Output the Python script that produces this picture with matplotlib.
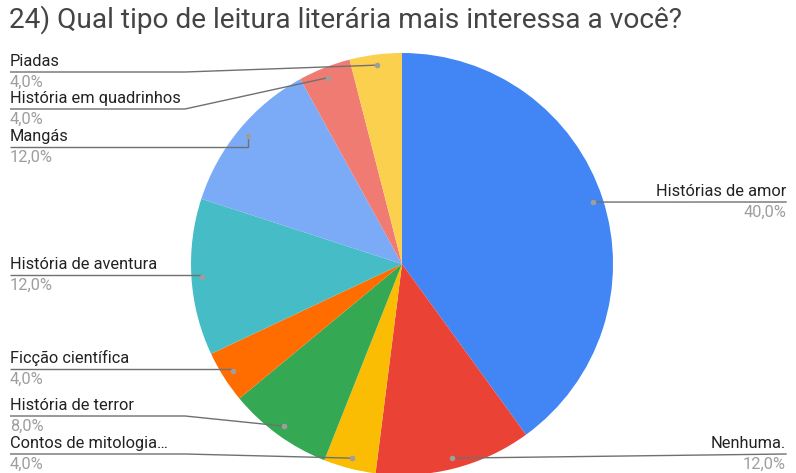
import numpy as np
import matplotlib.pyplot as plt

plt.rcParams['font.family'] = ['Roboto', 'DejaVu Sans']

title = "24) Qual tipo de leitura literária mais interessa a você?"
categories = ["Histórias de amor", "Nenhuma.", "Contos de mitologia…", "História de terror",
              "Ficção científica", "História de aventura", "Mangás",
              "História em quadrinhos", "Piadas"]
values = [40.0, 12.0, 4.0, 8.0, 4.0, 12.0, 12.0, 4.0, 4.0]
colors = ["#4285F4", "#EA4335", "#FBBC04", "#34A853", "#FF6D01",
          "#46BDC6", "#7BAAF7", "#F07B72", "#FCD04F"]

# label layout: line y (pixels from top), side
label_y = [202, 454, 454, 416, 369, 275, 147, 109, 72]
label_side = ["R", "R", "L", "L", "L", "L", "L", "L", "L"]

W, H = 796, 473
cx, cy, r = 402, 264, 211


def Y(p):
    return H - p


fig = plt.figure(figsize=(W / 100, H / 100), dpi=100)
ax = fig.add_axes([0, 0, 1, 1])

ax.pie(values, colors=colors, startangle=90, counterclock=False,
       center=(cx, Y(cy)), radius=r, frame=True,
       wedgeprops=dict(linewidth=0))
ax.set_xlim(0, W)
ax.set_ylim(0, H)
ax.set_aspect('equal')
ax.axis('off')

total = sum(values)
cum = 0
line_c = "#707070"
for name, v, ly, side in zip(categories, values, label_y, label_side):
    mid = (cum + v / 2) / total * 2 * np.pi
    cum += v
    px = cx + 0.95 * r * np.sin(mid)
    py = cy - 0.95 * r * np.cos(mid)
    pct = f"{v:.1f}%".replace('.', ',')
    if side == "L":
        knee = 185 if px > 260 else px
        ax.plot([10, knee, px], [Y(ly), Y(ly), Y(py)], color=line_c, lw=1, solid_capstyle='butt')
        tx, ha = 10, 'left'
    else:
        ax.plot([786, px], [Y(ly), Y(py)], color=line_c, lw=1)
        tx, ha = 786, 'right'
    ax.text(tx, Y(ly) + 3, name, ha=ha, va='bottom', fontsize=11.8, color="#222222")
    ax.text(tx, Y(ly) - 3, pct, ha=ha, va='top', fontsize=11.8, color="#9e9e9e")
    ax.plot([px], [Y(py)], 'o', color="#9e9e9e", ms=4, mec='none')

ax.text(9, Y(20), title, ha='left', va='center', fontsize=20.2, color="#444444")

fig.savefig("out.png", dpi=100)
